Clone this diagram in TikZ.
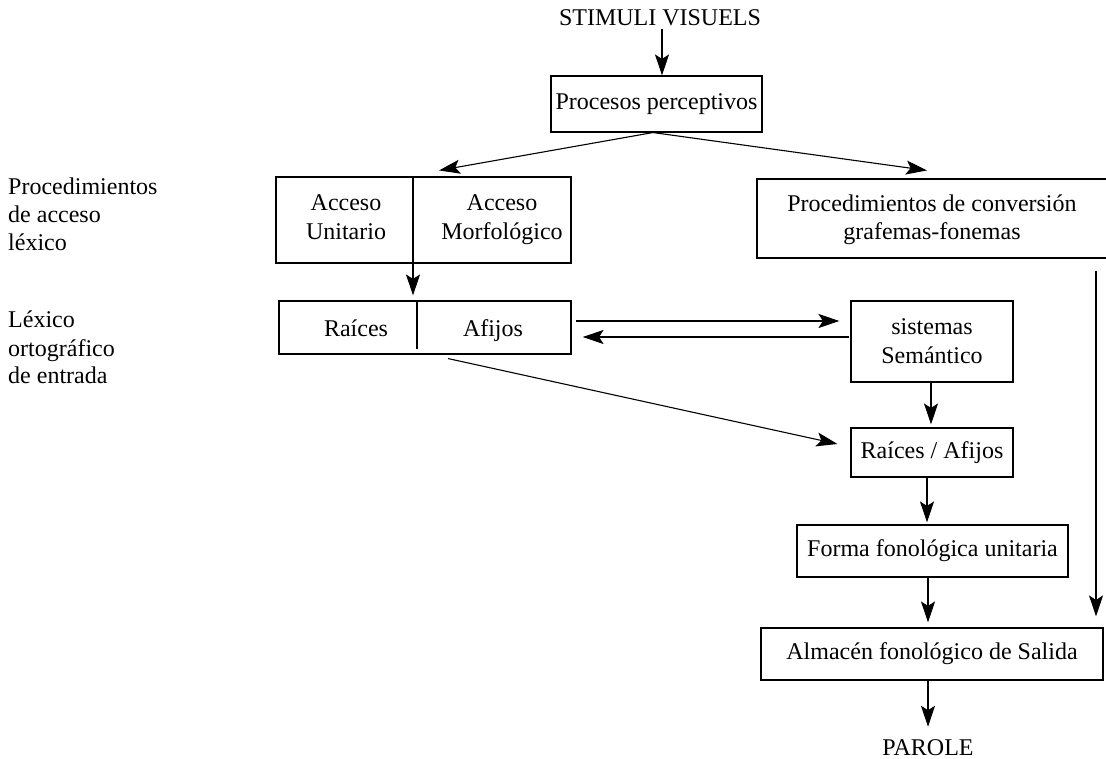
\documentclass[tikz,border=0pt]{standalone}
\usepackage{fontspec}
\setmainfont{Liberation Serif}
\usetikzlibrary{arrows.meta}
\begin{document}
\begin{tikzpicture}[x=1pt,y=-1pt,
  txt/.style={font=\fontsize{24}{28}\selectfont, inner sep=0pt},
  txtb/.style={font=\fontsize{24}{29}\selectfont, inner sep=0pt},
  box/.style={draw, line width=1.1pt, inner sep=0pt, font=\fontsize{24}{29}\selectfont, align=center},
  arr/.style={-{Stealth[length=21pt,width=14pt,inset=4.5pt]}, line width=1.1pt},
  ln/.style={line width=1.1pt}]
\useasboundingbox (0,0) rectangle (1106,759);

% left labels
\node[txt, align=left, anchor=base west] (lab1) at (8,251) {Procedimientos\\de acceso\\léxico};
\node[txt, align=left, anchor=base west] (lab2) at (8,384) {Léxico\\ortográfico\\de entrada};

% top
\node[txt] (stim) at (660,18) {STIMULI VISUELS};
\node[box, minimum width=211pt, minimum height=56pt] (proc) at (656.5,104) {Procesos perceptivos};

% acceso box
\node[box, minimum width=295pt, minimum height=86pt] (acc) at (423.5,220) {};
\node[txtb, align=center, anchor=base] (accU) at (346,240) {Acceso\\Unitario};
\node[txtb, align=center, anchor=base] (accM) at (502,240) {Acceso\\Morfológico};
\draw[ln] ([xshift=-10.5pt]acc.north) -- ([xshift=-10.5pt]acc.south);

% conversion box
\node[box, minimum width=355pt, minimum height=79pt] (conv) at (934.5,218.5) {};
\node[txt, align=center] (convT) at (932,220) {Procedimientos de conversión\\grafemas-fonemas};

% raices box
\node[box, minimum width=292pt, minimum height=53pt] (rai) at (425,327.5) {};
\node[txt, anchor=base] (raiR) at (356,337) {Raíces};
\node[txt, anchor=base] (raiA) at (493,337) {Afijos};
\draw[ln] ([xshift=-8pt]rai.north) -- ([xshift=-8pt,yshift=6pt]rai.south);

% semantic
\node[box, minimum width=162pt, minimum height=81pt] (sis) at (932,341.5) {sistemas\\Semántico};
\node[box, minimum width=162pt, minimum height=49pt] (ra2) at (932,452.5) {Raíces / Afijos};
\node[box, minimum width=271pt, minimum height=52pt] (forma) at (932.5,551) {Forma fonológica unitaria};
\node[box, minimum width=342pt, minimum height=52pt] (alm) at (932,654) {Almacén fonológico de Salida};
\node[txt] (parole) at (928,748) {PAROLE};

% arrows
\draw[arr, shorten <=3pt] ([xshift=2pt]stim.south) -- ([xshift=5.5pt]proc.north);
\draw[arr] ([xshift=-3.5pt]proc.south) -- ([xshift=15.5pt,yshift=6pt]acc.north);
\draw[arr] ([xshift=-3.5pt]proc.south) -- ([xshift=-7.5pt,yshift=8pt]conv.north);
\draw[arr, shorten >=5pt] ([xshift=-10.5pt]acc.south) -- ([xshift=-10.5pt]acc.south |- rai.north);
\draw[arr, shorten <=4pt, shorten >=11pt] ([yshift=6.5pt]rai.east) -- ([yshift=6.5pt]rai.east -| sis.west);
\draw[arr, shorten <=1pt, shorten >=11pt] ([yshift=-9.5pt]rai.east -| sis.west) -- ([yshift=-9.5pt]rai.east);
\draw[arr] ([xshift=23pt,yshift=-4pt]rai.south) -- ([xshift=-13pt,yshift=8.5pt]ra2.west);
\draw[arr, shorten >=3pt] ([xshift=-1pt]sis.south) -- ([xshift=-1pt]sis.south |- ra2.north);
\draw[arr, shorten >=2pt] ([xshift=-5pt]ra2.south) -- ([xshift=-5pt]ra2.south |- forma.north);
\draw[arr, shorten >=5pt] ([xshift=-4.5pt]forma.south) -- ([xshift=-4.5pt]forma.south |- alm.north);
\draw[arr, shorten >=13pt] ([xshift=-4pt]alm.south) -- ([xshift=-4pt]alm.south |- parole.north);
\draw[arr, shorten <=12pt, shorten >=11pt] ([xshift=161.5pt]conv.south) -- ([xshift=161.5pt]conv.south |- alm.north);
\end{tikzpicture}
\end{document}
